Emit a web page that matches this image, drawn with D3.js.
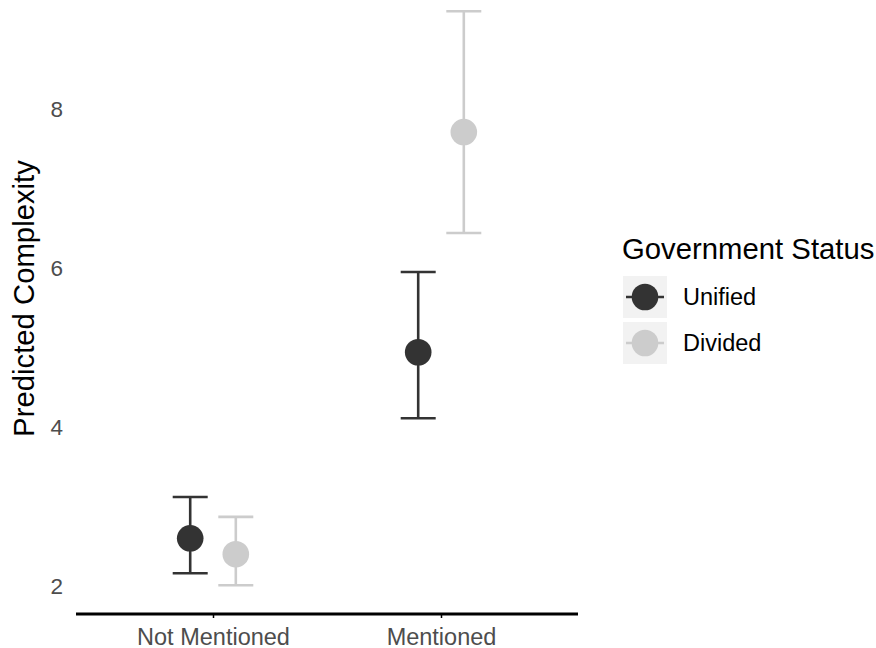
<!DOCTYPE html>
<html>
<head>
<meta charset="utf-8">
<script src="https://cdn.jsdelivr.net/npm/d3@7"></script>
<style>
  html, body { margin: 0; padding: 0; background: #fff; }
  svg { display: block; font-family: "Liberation Sans", Arial, Helvetica, sans-serif; }
</style>
</head>
<body>
<svg id="chart" width="876" height="648"></svg>
<script>
// Predicted complexity by mention status and government status
const categories = ["Not Mentioned", "Mentioned"];
const groups = ["Unified", "Divided"];
const groupColors = ["#333333", "#cccccc"];
const estUnified = [2.60, 4.94];
const lowUnified = [2.16, 4.11];
const highUnified = [3.12, 5.95];
const estDivided = [2.40, 7.71];
const lowDivided = [2.01, 6.44];
const highDivided = [2.87, 9.23];
const yTicks = [2, 4, 6, 8];

const rows = [];
categories.forEach((c, i) => {
  rows.push({ cat: c, group: "Unified", est: estUnified[i], lo: lowUnified[i], hi: highUnified[i] });
  rows.push({ cat: c, group: "Divided", est: estDivided[i], lo: lowDivided[i], hi: highDivided[i] });
});

const svg = d3.select("#chart");
const panel = { left: 76, right: 578, top: -17, bottom: 614 };

const y = d3.scaleLinear().domain([2, 8]).range([586, 109]);
const x = d3.scalePoint().domain(categories).range([213, 441]);
const dodge = d3.scalePoint().domain(groups).range([-22.8, 22.8]);
const color = d3.scaleOrdinal().domain(groups).range(groupColors);

// y axis: labels only
const yAxis = svg.append("g")
  .attr("transform", `translate(${panel.left},0)`)
  .call(d3.axisLeft(y).tickValues(yTicks).tickSize(0).tickPadding(13).tickFormat(d3.format("d")));
yAxis.select(".domain").remove();
yAxis.selectAll("text").attr("fill", "#4d4d4d").style("font-size", "22.5px");

// x axis: thick baseline with short ticks
const xAxis = svg.append("g")
  .attr("transform", `translate(0,${panel.bottom})`)
  .call(d3.axisBottom(x).tickSize(4).tickPadding(10).tickSizeOuter(0));
xAxis.select(".domain").attr("d", `M${panel.left},0H${panel.right}`)
  .attr("stroke", "#000").attr("stroke-width", 3);
xAxis.selectAll(".tick line").attr("stroke", "#000").attr("stroke-width", 1.5);
xAxis.selectAll("text").attr("fill", "#4d4d4d").style("font-size", "23.5px");

// y axis title
svg.append("text")
  .attr("transform", `translate(34,298.5) rotate(-90)`)
  .attr("text-anchor", "middle")
  .attr("fill", "#000")
  .style("font-size", "29.3px")
  .text("Predicted Complexity");

// error bars
const capHalf = 17.5;
const bars = svg.append("g").selectAll("g").data(rows).join("g")
  .attr("stroke", d => color(d.group))
  .attr("stroke-width", 2.6)
  .attr("fill", "none");
bars.append("line")
  .attr("x1", d => x(d.cat) + dodge(d.group)).attr("x2", d => x(d.cat) + dodge(d.group))
  .attr("y1", d => y(d.lo)).attr("y2", d => y(d.hi));
bars.append("line")
  .attr("x1", d => x(d.cat) + dodge(d.group) - capHalf).attr("x2", d => x(d.cat) + dodge(d.group) + capHalf)
  .attr("y1", d => y(d.lo)).attr("y2", d => y(d.lo));
bars.append("line")
  .attr("x1", d => x(d.cat) + dodge(d.group) - capHalf).attr("x2", d => x(d.cat) + dodge(d.group) + capHalf)
  .attr("y1", d => y(d.hi)).attr("y2", d => y(d.hi));

// point estimates
svg.append("g").selectAll("circle").data(rows).join("circle")
  .attr("cx", d => x(d.cat) + dodge(d.group))
  .attr("cy", d => y(d.est))
  .attr("r", 13.3)
  .attr("fill", d => color(d.group));

// legend
const legend = svg.append("g");
legend.append("text")
  .attr("x", 622).attr("y", 259)
  .attr("fill", "#000")
  .style("font-size", "29.3px")
  .text("Government Status");
const keys = legend.selectAll("g.key").data(groups).join("g")
  .attr("class", "key")
  .attr("transform", (d, i) => `translate(623,${276 + i * 46})`);
keys.append("rect").attr("width", 44).attr("height", 42).attr("fill", "#f2f2f2");
keys.append("line")
  .attr("x1", 3).attr("x2", 41).attr("y1", 21).attr("y2", 21)
  .attr("stroke", d => color(d)).attr("stroke-width", 2.6);
keys.append("circle")
  .attr("cx", 22).attr("cy", 21).attr("r", 13.3)
  .attr("fill", d => color(d));
keys.append("text")
  .attr("x", 60).attr("y", 21).attr("dy", "0.35em")
  .attr("fill", "#000")
  .style("font-size", "23.5px")
  .text(d => d);
</script>
</body>
</html>
